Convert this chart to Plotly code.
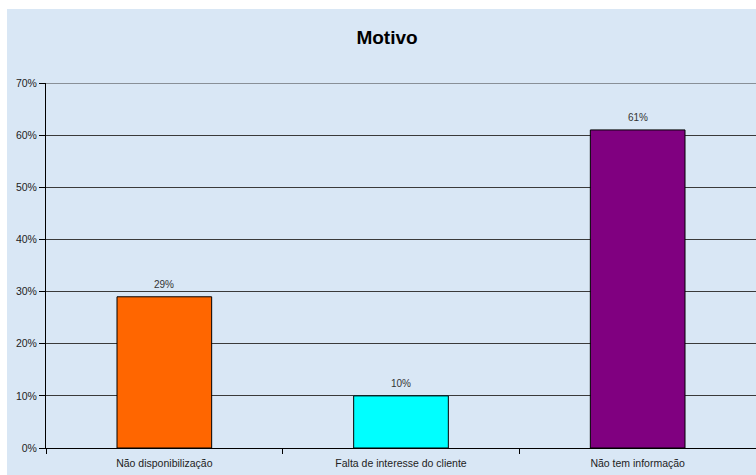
import plotly.graph_objects as go

categories = ["Não disponibilização", "Falta de interesse do cliente", "Não tem informação"]
values = [0.29, 0.10, 0.61]
colors = ["#FF6600", "#00FFFF", "#800080"]
labels = ["29%", "10%", "61%"]
title = "Motivo"
y_max = 0.7

L, T, B = 46, 83, 27
W, H = 756, 475
pw = W - L
ph = H - T - B

fig = go.Figure()
fig.add_trace(go.Bar(
    x=categories, y=values,
    marker=dict(color=colors, line=dict(color="black", width=1)),
    width=0.4,
    cliponaxis=False,
))
for c, v, t in zip(categories, values, labels):
    fig.add_annotation(x=c, y=v, text=t, showarrow=False, yanchor="bottom",
                       yshift=5, font=dict(size=10, color="#333333",
                                           family="Liberation Sans, Arial"))

bg = "#d9e7f5"
fig.add_shape(type="rect", xref="paper", yref="paper",
              x0=(7 - L) / pw, x1=1.05, y0=-(B + 5) / ph, y1=(H - B - 9) / ph,
              fillcolor=bg, line=dict(width=0), layer="below")
# top gridline at the range maximum
fig.add_shape(type="line", xref="paper", yref="y", x0=0, x1=1.01, y0=y_max, y1=y_max,
              line=dict(color="#3a3a3a", width=1), layer="below")

fig.update_layout(
    width=W, height=H,
    margin=dict(l=L, r=0, t=T, b=B),
    paper_bgcolor="white",
    plot_bgcolor="rgba(0,0,0,0)",
    font=dict(family="Liberation Sans, Arial", size=10.5, color="#222222"),
    title=dict(text="<b>" + title + "</b>", x=(387) / W, xanchor="center",
               y=1 - 37 / H, yanchor="middle",
               font=dict(size=19, color="black", family="Liberation Sans, Arial")),
    showlegend=False,
    bargap=0.6,
)
fig.update_xaxes(
    showline=True, linecolor="black", linewidth=1,
    ticks="outside", tickson="boundaries", ticklen=5, tickcolor="black",
    ticklabelstandoff=5,
    showgrid=False, tickfont=dict(size=10.5, color="#222222"),
)
fig.update_yaxes(
    range=[0, y_max], dtick=0.1, tickformat=".0%",
    showline=True, linecolor="black", linewidth=1,
    ticks="outside", ticklen=6, tickcolor="black",
    showgrid=True, gridcolor="#3a3a3a", gridwidth=1,
    zeroline=False, tickfont=dict(size=10.5, color="#222222"),
)

fig.write_html("out.html")
